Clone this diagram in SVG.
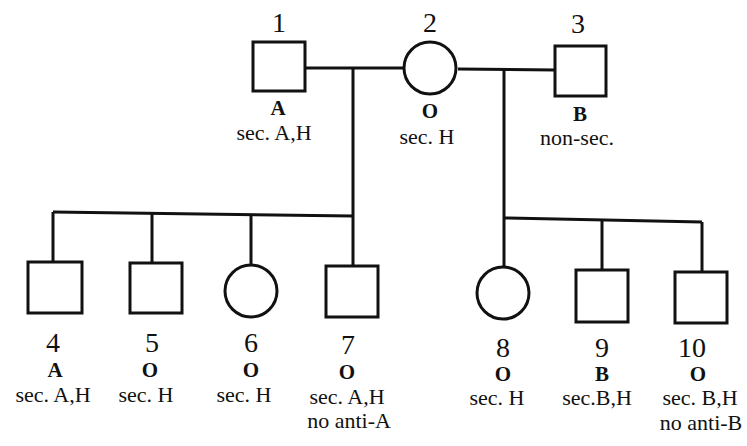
<svg xmlns="http://www.w3.org/2000/svg" width="747" height="446" viewBox="0 0 747 446">
<style>
.sh{fill:#fff;stroke:#111;stroke-width:3}
.ln{fill:none;stroke:#111;stroke-width:3}
text{fill:#111;text-anchor:middle}
.n{font-size:28px}
.b{font-size:21px;font-weight:bold}
.t{font-size:22px}
</style>
<rect width="747" height="446" fill="#fff"/>
<g id="connectors">
<path class="ln" d="M305 68 L403 68"/>
<path class="ln" d="M458 69 L555 70"/>
<path class="ln" d="M353 68 L353 266"/>
<path class="ln" d="M53 212 L353 216"/>
<path class="ln" d="M53 212 L53 262"/>
<path class="ln" d="M152 213 L152 263"/>
<path class="ln" d="M251 215 L251 265"/>
<path class="ln" d="M504 69 L504 266"/>
<path class="ln" d="M504 218 L702 222"/>
<path class="ln" d="M602 220 L602 270"/>
<path class="ln" d="M702 222 L702 272"/>
</g>
<g font-family="Liberation Serif, Times New Roman, serif">
<g id="node1">
<rect class="sh" x="253" y="42" width="52" height="49"/>
<text class="n" x="279" y="32">1</text>
<text class="b" x="278" y="115">A</text>
<text class="t" x="274" y="140">sec. A,H</text>
</g>
<g id="node2">
<circle class="sh" cx="430" cy="68" r="26"/>
<text class="n" x="430" y="32">2</text>
<text class="b" x="430" y="118">O</text>
<text class="t" x="427" y="144">sec. H</text>
</g>
<g id="node3">
<rect class="sh" x="555" y="46" width="51" height="50"/>
<text class="n" x="578" y="33">3</text>
<text class="b" x="580" y="121">B</text>
<text class="t" x="577" y="145">non-sec.</text>
</g>
<g id="node4">
<rect class="sh" x="28" y="262" width="54" height="51"/>
<text class="n" x="53" y="352">4</text>
<text class="b" x="55" y="377">A</text>
<text class="t" x="53" y="402">sec. A,H</text>
</g>
<g id="node5">
<rect class="sh" x="130" y="263" width="52" height="50"/>
<text class="n" x="152" y="352">5</text>
<text class="b" x="150" y="377">O</text>
<text class="t" x="146" y="402">sec. H</text>
</g>
<g id="node6">
<circle class="sh" cx="251" cy="291" r="26"/>
<text class="n" x="251" y="352">6</text>
<text class="b" x="251" y="377">O</text>
<text class="t" x="244" y="402">sec. H</text>
</g>
<g id="node7">
<rect class="sh" x="326" y="266" width="52" height="51"/>
<text class="n" x="348" y="354">7</text>
<text class="b" x="347" y="379">O</text>
<text class="t" x="347" y="404">sec. A,H</text>
<text class="t" x="349" y="428">no anti-A</text>
</g>
<g id="node8">
<circle class="sh" cx="503" cy="293" r="26"/>
<text class="n" x="503" y="357">8</text>
<text class="b" x="503" y="381">O</text>
<text class="t" x="497" y="405">sec. H</text>
</g>
<g id="node9">
<rect class="sh" x="576" y="270" width="52" height="52"/>
<text class="n" x="602" y="357">9</text>
<text class="b" x="602" y="381">B</text>
<text class="t" x="597" y="405">sec.B,H</text>
</g>
<g id="node10">
<rect class="sh" x="675" y="272" width="52" height="51"/>
<text class="n" x="692" y="357">10</text>
<text class="b" x="698" y="381">O</text>
<text class="t" x="700" y="405">sec. B,H</text>
<text class="t" x="701" y="430">no anti-B</text>
</g>
</g>
</svg>
